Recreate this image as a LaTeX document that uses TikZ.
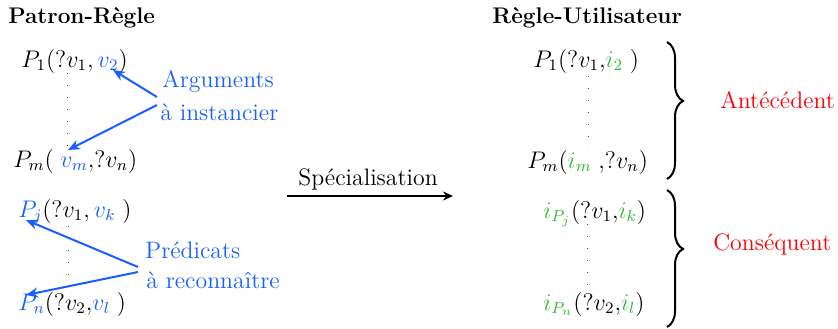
\documentclass[tikz,border=0pt]{standalone}
\usepackage{fontspec}
\usetikzlibrary{arrows.meta,decorations.pathreplacing}
\definecolor{argblue}{RGB}{25,95,255}
\definecolor{instgreen}{RGB}{50,185,50}
\definecolor{labred}{RGB}{255,0,0}
\newcommand{\bv}[1]{\textcolor{argblue}{#1}}
\newcommand{\gi}[1]{\textcolor{instgreen}{#1}}
\tikzset{
  txt/.style={anchor=base west, inner sep=0pt, font=\fontsize{11.6}{13}\selectfont},
  lab/.style={anchor=base west, inner sep=0pt, font=\fontsize{11.9}{14}\selectfont},
  ttl/.style={txt, font=\fontsize{11.3}{13}\selectfont\bfseries},
  bluelab/.style={lab, text=argblue},
  redlab/.style={lab, text=labred},
  ptr/.style={draw=argblue, line width=1pt, -{Stealth[length=6pt,width=5pt]}},
  spec/.style={draw=black, line width=1pt, -{Stealth[length=5pt,width=4.5pt]}},
  vdot/.style={draw=black!75, line width=0.5pt, dash pattern=on 0.5pt off 5.5pt},
  brc/.style={draw=black, line width=1pt, decorate, decoration={brace, amplitude=8pt, aspect=0.43}}
}
\begin{document}
\begin{tikzpicture}[x=0.5pt, y=-0.5pt]
\useasboundingbox (0,0) rectangle (838,328);
% titles
\node[ttl] (t1) at (8,23) {Patron-Règle};
\node[ttl] (t2) at (492,23) {Règle-Utilisateur};
% left top
\node[txt] (p1) at (21,67) {$P_1(?v_1,\bv{v_2})$};
\node[txt] (pm) at (13,167) {$P_m(\;\bv{v_m}{,}?v_n)$};
\draw[vdot] (67,73) -- (67,151);
\node[bluelab] (arg1) at (162,87) {Arguments};
\node[bluelab] (arg2) at (160,120) {à instancier};
\coordinate (a1s) at (157,97);
\coordinate (a1e) at (113,70);
\coordinate (a2s) at (157,105);
\coordinate (a2e) at (68,150);
\draw[ptr] (a1s) -- (a1e);
\draw[ptr] (a2s) -- (a2e);
% left bottom
\node[txt] (pj) at (18,217) {$\bv{P_j}(?v_1,\bv{v_k}\;)$};
\node[txt] (pn) at (18,310) {$\bv{P_n}(?v_2{,}\bv{v_l}\;)$};
\draw[vdot] (68,226) -- (68,288);
\node[bluelab] (pr1) at (145,258) {Prédicats};
\node[bluelab] (pr2) at (146,288) {à reconnaître};
\coordinate (a3s) at (138,267);
\coordinate (a3e) at (26,220);
\coordinate (a4s) at (138,272);
\coordinate (a4e) at (26,295);
\draw[ptr] (a3s) -- (a3e);
\draw[ptr] (a4s) -- (a4e);
% specialisation
\node[lab] (sp) at (298,185) {Spécialisation};
\coordinate (ss) at (287,196);
\coordinate (se) at (453,196);
\draw[spec] (ss) -- (se);
% right top
\node[txt] (r1) at (533,67) {$P_1(?v_1{,}\gi{i_2}\;)$};
\node[txt] (rm) at (527,168) {$P_m(\gi{i_m}\;{,}?v_n)$};
\draw[vdot] (588,76) -- (588,148);
% right bottom
\node[txt] (rj) at (543,218) {$\gi{i_{P_j}}(?v_1{,}\gi{i_k})$};
\node[txt] (rn) at (543,310) {$\gi{i_{P_n}}(?v_2{,}\gi{i_l})$};
\draw[vdot] (587,224) -- (587,290);
% braces
\coordinate (b1t) at (667,42);
\coordinate (b1b) at (667,179);
\coordinate (b2t) at (667,190);
\coordinate (b2b) at (667,327);
\draw[brc] (b1t) -- (b1b);
\draw[brc] (b2t) -- (b2b);
\node[redlab] (ant) at (720,108) {Antécédent};
\node[redlab] (cons) at (713,250) {Conséquent};
\end{tikzpicture}
\end{document}
